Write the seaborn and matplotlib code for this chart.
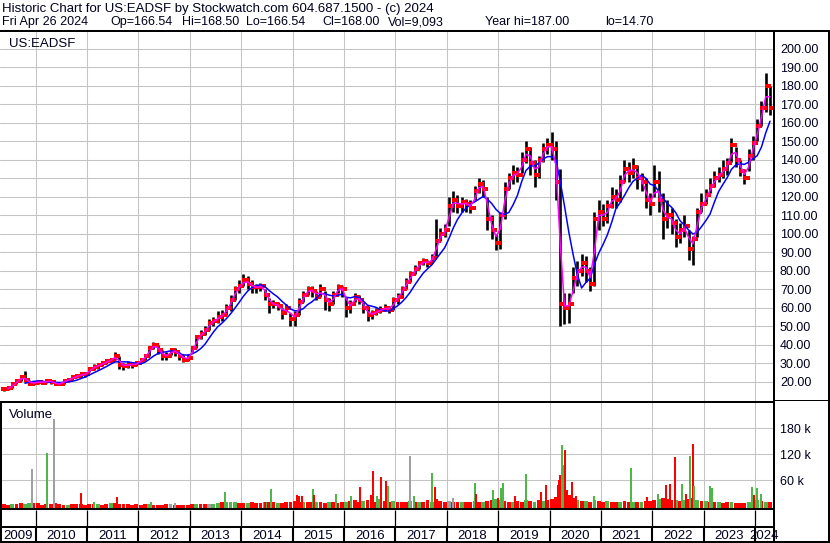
import matplotlib
matplotlib.use("Agg")
import pandas as pd
import matplotlib.pyplot as plt
from matplotlib.lines import Line2D
import seaborn as sns

# ---------------------------------------------------------------
# US:EADSF monthly bars, May 2009 .. Apr 2024
# ---------------------------------------------------------------
first_month = "2009-05"

close = [
    16, 16.5, 18.5, 20.5, 22.5, 21, 19, 19.5,                      # 2009
    20, 19.5, 20.5, 20, 18.5, 19, 20.5, 21, 22.5, 23, 24, 24,       # 2010
    27, 28, 29, 30, 31, 32, 34, 29, 28.5, 29.5, 29, 30,             # 2011
    32, 34, 38, 40, 37, 34, 34, 37, 36, 34, 32, 33,                 # 2012
    38, 44, 46, 48, 52, 53, 55, 56, 60, 64, 70, 72,                 # 2013
    75, 73, 71, 71, 72, 67, 62, 62, 61, 57, 60, 54,                 # 2014
    56, 63, 67, 70, 69, 66, 70, 64, 62, 67, 71, 70,                 # 2015
    60, 62, 66, 64, 60, 56, 57, 58, 59, 60, 59, 64,                 # 2016
    66, 70, 74, 78, 81, 84, 85, 84, 87, 96, 100, 102,               # 2017
    115, 118, 115, 117, 116, 114, 123, 127, 124, 108, 102, 95,      # 2018
    110, 124, 130, 133, 132, 140, 146, 138, 132, 140, 146, 148,     # 2019
    146, 128, 62, 60, 62, 76, 80, 84, 80, 73, 108, 112,             # 2020
    108, 115, 120, 118, 128, 135, 133, 136, 130, 128, 118, 116,     # 2021
    128, 118, 108, 110, 106, 98, 102, 104, 92, 97, 112, 116,        # 2022
    121, 126, 130, 132, 135, 138, 148, 140, 134, 130, 142, 149,     # 2023
    158, 168, 180, 168,                                             # 2024
]
high = [
    17, 17.5, 19.5, 21.5, 23.5, 26, 21, 20.5,
    21, 20.5, 21, 21, 20, 20, 21, 22, 23, 24, 25, 25.5,
    28, 29.5, 30, 31, 32, 33, 36, 34, 30, 31, 30.5, 31,
    33, 35, 39, 41.5, 40, 37, 36, 38, 38, 36, 34.5, 35,
    39.5, 45, 48, 50, 54, 55, 58, 59, 62, 67, 72, 75,
    78, 77, 75, 73, 73.5, 70, 65, 64, 63, 60, 62, 57,
    58, 65, 69, 72, 72, 69, 73, 69, 65, 69, 73, 72,
    66, 64, 68, 67, 63, 61, 59, 60, 61, 62, 61, 66,
    68, 72, 76, 80, 83, 85, 87, 86, 89, 108, 103, 105,
    120, 123, 121, 120, 119, 118, 126, 130, 129, 120, 110, 100,
    112, 128, 133, 137, 136, 144, 150, 147, 140, 142, 149, 152,
    155, 150, 135, 68, 68, 82, 85, 89, 88, 82, 112, 118,
    116, 118, 125, 124, 132, 140, 139, 141, 137, 133, 130, 122,
    137, 134, 122, 118, 114, 108, 106, 110, 102, 99, 114, 122,
    124, 130, 134, 136, 140, 141, 152, 147, 140, 135, 146, 153,
    162, 172, 187, 180,
]
low = [
    15, 15.5, 16.5, 19, 20.5, 20, 18, 18.5,
    19, 19, 19.5, 19, 18, 18, 19, 20, 21, 22, 22.5, 22.5,
    25, 26.5, 27, 28.5, 29.5, 30.5, 32, 27, 26.5, 27.5, 27.5, 28.5,
    30.5, 32, 34, 37.5, 35, 32, 32, 34.5, 34, 32, 30.5, 31,
    36, 38, 43, 45, 48, 50, 52, 53, 56, 58, 64, 68,
    72, 70, 68, 68, 69, 64, 57, 60, 59, 54, 58, 50,
    50, 56, 63, 67, 66, 64, 66, 59, 58, 62, 68, 66,
    55, 57, 63, 62, 57, 53, 54, 56, 57, 58, 57, 59,
    62, 65, 70, 74, 78, 81, 83, 82, 84, 88, 96, 98,
    104, 112, 111, 112, 112, 111, 118, 122, 120, 102, 97, 91,
    92, 108, 124, 127, 128, 133, 138, 132, 125, 130, 139, 143,
    140, 118, 50, 51, 52, 68, 72, 77, 74, 69, 72, 102,
    104, 106, 114, 114, 117, 128, 128, 130, 124, 123, 114, 110,
    120, 112, 97, 103, 100, 93, 95, 98, 86, 83, 98, 112,
    116, 122, 125, 128, 130, 132, 139, 136, 131, 127, 134, 140,
    150, 158, 166, 164,
]

# typical volume level per month (thousands) and its colour (r/g/x=grey)
vol_base = [
    4, 3, 5, 4, 7, 5, 6, 6,
    7, 3, 4, 5, 6, 4, 3, 3, 4, 5, 4, 3,
    4, 5, 4, 3, 5, 6, 7, 5, 4, 5, 3, 4,
    3, 4, 5, 3, 3, 3, 4, 4, 3, 3, 3, 3,
    4, 4, 5, 5, 4, 5, 6, 8, 10, 9, 8, 6,
    7, 6, 8, 6, 7, 8, 9, 8, 7, 6, 8, 9,
    12, 10, 9, 8, 9, 10, 8, 7, 9, 8, 7, 9,
    10, 12, 14, 10, 12, 14, 12, 10, 15, 12, 10, 12,
    10, 8, 10, 12, 9, 8, 10, 14, 10, 15, 12, 10,
    12, 10, 9, 8, 10, 9, 12, 10, 8, 12, 14, 15,
    14, 12, 10, 9, 12, 10, 14, 12, 10, 13, 12, 14,
    15, 20, 35, 30, 25, 18, 14, 12, 12, 10, 14, 12,
    10, 12, 10, 9, 10, 12, 10, 9, 10, 8, 11, 12,
    14, 16, 18, 15, 13, 14, 12, 14, 16, 18, 14, 12,
    12, 10, 9, 8, 7, 8, 9, 7, 6, 7, 8, 10,
    14, 12, 10, 10,
]
vol_color = ("rrgrrggr" "rrrrrrrgrrrr" "rrgrrgrrrrrr" "rrgrrrrxrrrr"
             "rgrrxggrgggr" "rgrrrgrrgrrr" "rrgrrgrrgrrr" "grrrgrrrgrrg"
             "rrrgrgrrgrrr" "xrrgrrgrgrrg" "grrgrrgrgrgr" "rrrgrrgrgrgr"
             "rgrrgrrgrgrr" "rgrrrgrgrrgr" "grrgrrgrrrgr" "grgr")

# single heavy-volume sessions
spike_dates = [
    "2009-12-06", "2010-03-19", "2010-05-10", "2010-11-16", "2011-02-19",
    "2011-07-30", "2012-03-29", "2012-09-18", "2013-09-04", "2013-10-22",
    "2014-06-21", "2014-07-31", "2015-02-04", "2015-02-18", "2015-03-11",
    "2015-05-26", "2015-06-01", "2015-11-07", "2016-02-16", "2016-04-23",
    "2016-07-08", "2016-07-27", "2016-08-19", "2016-09-17", "2016-10-22",
    "2016-11-11", "2017-04-13", "2017-05-10", "2017-09-20", "2017-10-06",
    "2018-02-17", "2018-07-20", "2018-07-25", "2018-11-27", "2018-12-31",
    "2019-01-19", "2019-02-07", "2019-04-28", "2019-07-15", "2019-10-30",
    "2019-12-05", "2020-03-01", "2020-03-11", "2020-03-17", "2020-03-29",
    "2020-04-07", "2020-04-19", "2020-05-03", "2020-06-08", "2020-07-06",
    "2020-11-09", "2021-08-02", "2021-11-24", "2021-12-22", "2022-02-08",
    "2022-04-08", "2022-05-08", "2022-06-11", "2022-07-28", "2022-08-28",
    "2022-09-26", "2022-10-17", "2022-10-26", "2023-02-18", "2023-03-01",
    "2023-12-08", "2023-12-23", "2024-01-16", "2024-02-13",
]
spike_vol = [
    85, 122, 201, 29, 8,
    21, 10, 6, 33, 7,
    8, 39, 25, 23, 22,
    39, 25, 28, 24, 44,
    26, 82, 23, 66, 58,
    46, 116, 22, 76, 43,
    18, 52, 27, 36, 19,
    41, 54, 23, 74, 31,
    48, 48, 60, 72, 141,
    94, 130, 36, 55, 24,
    24, 89, 20, 11, 28,
    48, 50, 113, 51, 27,
    116, 144, 46, 46, 42,
    44, 25, 42, 28,
]
spike_color = ("xgxrg" "rgxgg" "rgrrr" "grggr" "rrgrr" "gxggr"
               "xgrgr" "ggrgr" "rrrrg" "grrrr" "ggrrg" "rrrgr"
               "grggg" "grgg")

years = list(range(2009, 2025))
price_ticks = list(range(20, 201, 10))
vol_ticks = [60, 120, 180]
title_1 = "Historic Chart for US:EADSF by Stockwatch.com 604.687.1500 - (c) 2024"
title_2 = ["Fri Apr 26 2024", "Op=166.54", "Hi=168.50", "Lo=166.54",
           "Cl=168.00", "Vol=9,093", "Year hi=187.00", "lo=14.70"]
title_2_x = [2, 110, 182, 246, 322, 388, 485, 605]   # text start, px

# ---------------------------------------------------------------
W, H = 830, 543
PX_YEAR = 51.38                 # pixels per year on the time axis
X_LEFT = 2010 - 35.7 / PX_YEAR  # time at the left edge
RIGHT = 773.7                   # right edge of the plotting area (px)
COLORS = {"r": "#ff0000", "g": "#4db848", "x": "#a0a0a0"}
GRID = "#c4c4c4"
TXT = "#000020"

months = pd.period_range(first_month, periods=len(close), freq="M")
df = pd.DataFrame({"close": close, "high": high, "low": low,
                   "vol": vol_base, "vc": list(vol_color)})
df["t"] = months.year + (months.month - 0.5) / 12
df["open"] = df["close"].shift(1).bfill()
df["ma_fast"] = df["close"].rolling(2).mean()
df["ma_slow"] = df["close"].rolling(6).mean()

sp = pd.to_datetime(spike_dates)
spikes = pd.DataFrame({"t": sp.year + (sp.dayofyear - 0.5) / 365,
                       "vol": spike_vol, "vc": list(spike_color)})

sns.set_theme(style="white")
plt.rcParams["font.family"] = ["Liberation Sans", "DejaVu Sans"]
plt.rcParams["font.size"] = 9

fig = plt.figure(figsize=(W / 100, H / 100), dpi=100)


def box(l, t, r, b):
    return [l / W, 1 - b / H, (r - l) / W, (b - t) / H]


def fline(x0, y0, x1, y1, lw=2):
    fig.add_artist(Line2D([x0 / W, x1 / W], [1 - y0 / H, 1 - y1 / H],
                          color="black", lw=lw * 0.72, solid_capstyle="butt"))


xlim = (X_LEFT, X_LEFT + RIGHT / PX_YEAR)
year_lines = [y for y in years if y > 2009]
tick = 1.0 / PX_YEAR   # one pixel in years

# ---- price panel ----
ax = fig.add_axes(box(0, 31, RIGHT, 401.5))
ax.set_xlim(*xlim)
ax.set_ylim(9.3, 209.6)
ax.vlines(df["t"], df["low"], df["high"], color="black", lw=1.9, zorder=2)
ax.plot(df["t"] - tick, df["open"], ls="none", marker="s", ms=2.3,
        mew=0, color="red", zorder=3)
ax.plot(df["t"] + tick, df["close"], ls="none", marker="s", ms=2.3,
        mew=0, color="red", zorder=3)
sns.lineplot(x=df["t"], y=df["ma_slow"], ax=ax, color="#0000ff", lw=1.1,
             zorder=4)
sns.lineplot(x=df["t"], y=df["ma_fast"], ax=ax, color="#ff00ff", lw=1.1,
             zorder=5)
ax.set_xticks(year_lines)
ax.set_yticks(price_ticks)
ax.set_yticklabels([f"{v:.2f}" for v in price_ticks])
ax.yaxis.tick_right()
ax.tick_params(axis="y", length=0, pad=4.5, labelsize=9, labelcolor=TXT)
ax.tick_params(axis="x", length=0, labelbottom=False)
ax.grid(True, color=GRID, lw=0.75)
ax.set_xlabel("")
ax.set_ylabel("")
for s in ax.spines.values():
    s.set_visible(False)

# ---- volume panel ----
FLOOR = -8
vax = fig.add_axes(box(0, 401.5, RIGHT, 509.3))
vax.set_xlim(*xlim)
vax.set_ylim(FLOOR, 242.2)
vax.bar(df["t"], df["vol"] - FLOOR, bottom=FLOOR, width=0.9 / 12,
        color=[COLORS[c] for c in df["vc"]], lw=0, zorder=2)
vax.bar(spikes["t"], spikes["vol"] - FLOOR, bottom=FLOOR, width=2 * tick,
        color=[COLORS[c] for c in spikes["vc"]], lw=0, zorder=3)
vax.set_xticks(year_lines)
vax.set_yticks(vol_ticks)
vax.set_yticklabels([f"{v} k" for v in vol_ticks])
vax.yaxis.tick_right()
vax.tick_params(axis="y", length=0, pad=4.5, labelsize=9, labelcolor=TXT)
vax.tick_params(axis="x", length=0, labelbottom=False)
vax.grid(True, color=GRID, lw=0.75)
for s in vax.spines.values():
    s.set_visible(False)

# ---- year band ----
yax = fig.add_axes(box(0, 509.3, RIGHT, 543))
yax.set_xlim(*xlim)
yax.set_ylim(543, 509.3)
yax.axis("off")
yax.vlines(year_lines, 510, 527, color="black", lw=0.9)
yax.vlines(year_lines, 527, 541.5, color="black", lw=1.5)
for y in years:
    lo, hi = max(y, xlim[0]), min(y + 1, xlim[1])
    yax.text((lo + hi) / 2, 539.3, str(y), ha="center", va="baseline",
             fontsize=9.5, color=TXT, clip_on=False)

# ---- frame & captions ----
fline(0, 31, W, 31)
fline(0, 401.5, RIGHT, 401.5)
fline(RIGHT, 400.3, W, 400.3, lw=1)
fline(0, 509.3, RIGHT, 509.3)
fline(0, 527, RIGHT, 527)
fline(0, 541.6, W, 541.6)
fline(1, 401.5, 1, H)
fline(RIGHT, 31, RIGHT, H)
fline(829, 31, 829, H)

fig.text(2 / W, 1 - 12.3 / H, title_1, fontsize=9.5, va="baseline", color=TXT)
for s, x in zip(title_2, title_2_x):
    fig.text(x / W, 1 - 25.3 / H, s, fontsize=9, va="baseline", color=TXT)
fig.text(9 / W, 1 - 46.5 / H, "US:EADSF", fontsize=9.5, va="baseline",
         color=TXT)
fig.text(9 / W, 1 - 418 / H, "Volume", fontsize=9.5, va="baseline", color=TXT)

fig.savefig("out.png", dpi=100)
